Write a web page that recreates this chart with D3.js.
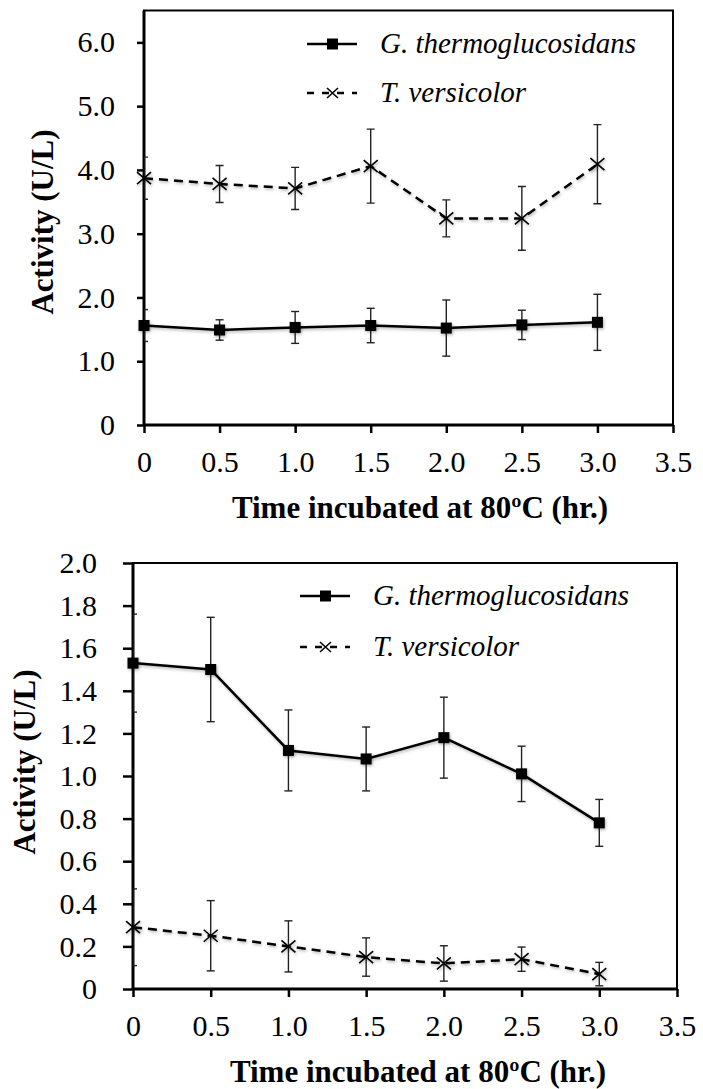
<!DOCTYPE html>
<html>
<head>
<meta charset="utf-8">
<script src="https://cdn.jsdelivr.net/npm/d3@7"></script>
<style>
  body { margin: 0; background: #fff; }
  svg text { fill: #000; }
</style>
</head>
<body>
<svg id="fig" width="703" height="1089"></svg>
<script>
// sampling times (hr.)
const times = [0, 0.5, 1.0, 1.5, 2.0, 2.5, 3.0];
const xTickValues = [0, 0.5, 1.0, 1.5, 2.0, 2.5, 3.0, 3.5];

const seriesNames = ["G. thermoglucosidans", "T. versicolor"];

// upper panel
const topGeo = [1.56, 1.49, 1.53, 1.56, 1.52, 1.57, 1.61];
const topGeoErr = [0.25, 0.16, 0.25, 0.27, 0.44, 0.23, 0.44];
const topTv = [3.87, 3.78, 3.71, 4.06, 3.24, 3.24, 4.09];
const topTvErr = [0.33, 0.29, 0.33, 0.58, 0.29, 0.50, 0.62];
const topYTicks = [0, 1, 2, 3, 4, 5, 6];

// lower panel
const botGeo = [1.53, 1.50, 1.12, 1.08, 1.18, 1.01, 0.78];
const botGeoErr = [0.23, 0.245, 0.19, 0.15, 0.19, 0.13, 0.11];
const botTv = [0.29, 0.25, 0.20, 0.15, 0.12, 0.14, 0.07];
const botTvErr = [0.18, 0.165, 0.12, 0.09, 0.083, 0.057, 0.055];
const botYTicks = [0, 0.2, 0.4, 0.6, 0.8, 1.0, 1.2, 1.4, 1.6, 1.8, 2.0];

const FONT = "'Liberation Serif', 'Times New Roman', Times, Tinos, 'Noto Serif', 'DejaVu Serif', FreeSerif, 'Nimbus Roman', serif";
const fmt = v => v === 0 ? "0" : d3.format(".1f")(v);

const svg = d3.select("#fig");

const defs = svg.append("defs");
defs.append("filter")
    .attr("id", "shadow")
    .attr("x", "-50%").attr("y", "-50%")
    .attr("width", "200%").attr("height", "200%")
  .append("feDropShadow")
    .attr("dx", 1).attr("dy", 1.5)
    .attr("stdDeviation", 1.5)
    .attr("flood-color", "#000")
    .attr("flood-opacity", 0.3);

function drawPanel(opts) {
    let scale = {
        x: d3.scaleLinear().domain([0, 3.5]).range([opts.left, opts.right]),
        y: d3.scaleLinear().domain([0, opts.yMax]).range([opts.bottom, opts.top]),
    };

    let g = svg.append("g").style("font-family", FONT);

    let clipId = "clip" + opts.id;
    defs.append("clipPath").attr("id", clipId)
      .append("rect")
        .attr("x", opts.left).attr("y", opts.top)
        .attr("width", opts.right - opts.left)
        .attr("height", opts.bottom - opts.top);

    // frame
    g.append("rect")
        .attr("x", opts.left).attr("y", opts.top)
        .attr("width", opts.right - opts.left)
        .attr("height", opts.bottom - opts.top)
        .attr("fill", "none")
        .attr("stroke", "#000")
        .attr("stroke-width", 2);

    // axes
    let xAxis = g.append("g")
        .attr("transform", `translate(0, ${opts.bottom})`)
        .call(d3.axisBottom(scale.x).tickValues(xTickValues).tickFormat(fmt).tickSize(8).tickPadding(opts.xPad));
    let yAxis = g.append("g")
        .attr("transform", `translate(${opts.left}, 0)`)
        .call(d3.axisLeft(scale.y).tickValues(opts.yTicks).tickFormat(fmt).tickSize(opts.yTickSize).tickPadding(opts.yPad));

    [xAxis, yAxis].forEach(a => {
        a.attr("font-family", null).attr("font-size", null);
        a.select(".domain").attr("stroke-width", 3);
        a.selectAll(".tick line").attr("stroke-width", 2.5);
        a.selectAll(".tick text")
            .style("font-family", FONT)
            .style("font-size", "30px")
            .attr("fill", "#000");
    });
    xAxis.select(".domain").attr("d", `M${opts.left},0H${opts.right}`);
    yAxis.select(".domain").attr("d", `M0,${opts.bottom}V${opts.top}`);

    // axis titles
    g.append("text")
        .attr("x", opts.xTitleX)
        .attr("y", opts.xTitleY)
        .attr("text-anchor", "middle")
        .style("font-weight", "bold")
        .style("font-size", "31px")
        .text("Time incubated at 80ºC (hr.)");

    g.append("text")
        .attr("transform", `translate(${opts.yTitleX}, ${opts.yTitleY}) rotate(-90)`)
        .attr("text-anchor", "middle")
        .style("font-weight", "bold")
        .style("font-size", "31px")
        .text("Activity (U/L)");

    let series = [
        { name: seriesNames[0], values: opts.geo, err: opts.geoErr, dash: null, marker: "square" },
        { name: seriesNames[1], values: opts.tv, err: opts.tvErr, dash: "9,6", marker: "x" },
    ];

    let line = d3.line()
        .x((d, i) => scale.x(times[i]))
        .y(d => scale.y(d));

    series.forEach(s => {
        let pts = s.values.map((v, i) => ({ t: times[i], v: v, e: s.err[i] }));

        // error bars
        let eb = g.append("g")
            .attr("clip-path", `url(#${clipId})`)
            .attr("stroke", "#222")
            .attr("stroke-width", 1.4);
        eb.selectAll("line.v").data(pts).join("line")
            .attr("x1", d => scale.x(d.t)).attr("x2", d => scale.x(d.t))
            .attr("y1", d => scale.y(d.v + d.e)).attr("y2", d => scale.y(d.v - d.e));
        eb.selectAll("line.top").data(pts).join("line")
            .attr("x1", d => scale.x(d.t) - 4).attr("x2", d => scale.x(d.t) + 4)
            .attr("y1", d => scale.y(d.v + d.e)).attr("y2", d => scale.y(d.v + d.e));
        eb.selectAll("line.bot").data(pts).join("line")
            .attr("x1", d => scale.x(d.t) - 4).attr("x2", d => scale.x(d.t) + 4)
            .attr("y1", d => scale.y(d.v - d.e)).attr("y2", d => scale.y(d.v - d.e));

        g.append("path")
            .datum(s.values)
            .attr("d", line)
            .attr("fill", "none")
            .attr("stroke", "#000")
            .attr("stroke-width", 2.5)
            .attr("stroke-dasharray", s.dash)
            .attr("filter", "url(#shadow)");

        let m = g.append("g").attr("filter", "url(#shadow)");
        if (s.marker === "square") {
            m.selectAll("rect").data(pts).join("rect")
                .attr("x", d => scale.x(d.t) - 5.5)
                .attr("y", d => scale.y(d.v) - 5.5)
                .attr("width", 11).attr("height", 11)
                .attr("fill", "#000");
        } else {
            m.selectAll("path").data(pts).join("path")
                .attr("transform", d => `translate(${scale.x(d.t)}, ${scale.y(d.v)})`)
                .attr("d", "M-7,-6L7,6M-7,6L7,-6")
                .attr("stroke", "#000")
                .attr("stroke-width", 1.6);
        }
    });

    // legend
    let leg = g.append("g");
    series.forEach((s, i) => {
        let y = opts.legY + i * opts.legGap;
        let row = leg.append("g").attr("transform", `translate(${opts.legX}, ${y})`);
        row.append("line")
            .attr("x1", 0).attr("x2", 50)
            .attr("stroke", "#000")
            .attr("stroke-width", 2.5)
            .attr("stroke-dasharray", s.dash ? "7,8" : null);
        if (s.marker === "square") {
            row.append("rect").attr("x", 20).attr("y", -5.5).attr("width", 11).attr("height", 11).attr("fill", "#000");
        } else {
            row.append("path").attr("d", "M20,-5L31,5M20,5L31,-5").attr("stroke", "#000").attr("stroke-width", 1.6);
        }
        row.append("text")
            .attr("x", 73)
            .attr("y", 9)
            .style("font-style", "italic")
            .style("font-size", "29px")
            .text(s.name);
    });
}

drawPanel({
    id: "top", left: 144, right: 673, top: 10.5, bottom: 425, yMax: 6.5,
    yTicks: topYTicks, yTickSize: 7, yPad: 22, xPad: 18,
    geo: topGeo, geoErr: topGeoErr, tv: topTv, tvErr: topTvErr,
    xTitleX: 420, xTitleY: 518, yTitleX: 53, yTitleY: 222,
    legX: 307, legY: 44, legGap: 49,
});

drawPanel({
    id: "bot", left: 133, right: 677, top: 563, bottom: 989, yMax: 2.0,
    yTicks: botYTicks, yTickSize: 10, yPad: 26, xPad: 18,
    geo: botGeo, geoErr: botGeoErr, tv: botTv, tvErr: botTvErr,
    xTitleX: 418, xTitleY: 1082, yTitleX: 35, yTitleY: 762,
    legX: 300, legY: 596, legGap: 51,
});
</script>
</body>
</html>
